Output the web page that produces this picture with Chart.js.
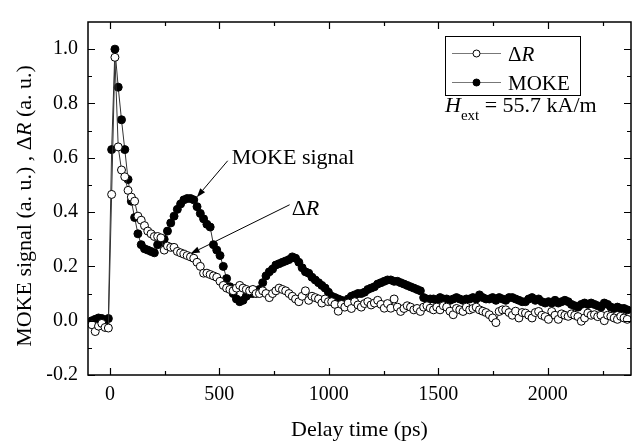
<!DOCTYPE html>
<html>
<head>
<meta charset="utf-8">
<script src="https://cdn.jsdelivr.net/npm/chart.js@4.4.1/dist/chart.umd.min.js"></script>
<style>
  html, body { margin: 0; padding: 0; background: #fff; }
  canvas { display: block; }
</style>
</head>
<body>
<canvas id="chart" width="636" height="445"></canvas>
<script>
// Delay time grid (ps), shared by both series
const delayTimes = [
  -82, -67, -52, -37, -22, -7, 8, 23, 38, 53,
  68, 83, 98, 113, 128, 143, 158, 173, 188, 203,
  218, 233, 248, 263, 278, 293, 308, 323, 338, 353,
  368, 383, 398, 413, 428, 443, 458, 473, 488, 503,
  518, 533, 548, 563, 578, 593, 608, 623, 638, 653,
  668, 683, 698, 713, 728, 743, 758, 773, 788, 803,
  818, 833, 848, 863, 878, 893, 908, 923, 938, 953,
  968, 983, 998, 1013, 1028, 1043, 1058, 1073, 1088, 1103,
  1118, 1133, 1148, 1163, 1178, 1193, 1208, 1223, 1238, 1253,
  1268, 1283, 1298, 1313, 1328, 1343, 1358, 1373, 1388, 1403,
  1418, 1433, 1448, 1463, 1478, 1493, 1508, 1523, 1538, 1553,
  1568, 1583, 1598, 1613, 1628, 1643, 1658, 1673, 1688, 1703,
  1718, 1733, 1748, 1763, 1778, 1793, 1808, 1823, 1838, 1853,
  1868, 1883, 1898, 1913, 1928, 1943, 1958, 1973, 1988, 2003,
  2018, 2033, 2048, 2063, 2078, 2093, 2108, 2123, 2138, 2153,
  2168, 2183, 2198, 2213, 2228, 2243, 2258, 2273, 2288, 2303,
  2318, 2333, 2348, 2363
];

// MOKE signal (filled circles)
const mokeSignal = [
  0.000, 0.005, 0.010, 0.008, -0.012, 0.008, 0.63, 1.00, 0.86, 0.74,
  0.63, 0.52, 0.44, 0.38, 0.32, 0.28, 0.265, 0.26, 0.255, 0.25,
  0.28, 0.29, 0.30, 0.33, 0.36, 0.385, 0.41, 0.43, 0.445, 0.45,
  0.45, 0.445, 0.42, 0.395, 0.375, 0.355, 0.345, 0.28, 0.26, 0.24,
  0.20, 0.155, 0.125, 0.10, 0.08, 0.07, 0.075, 0.09, 0.10, 0.10,
  0.105, 0.115, 0.14, 0.165, 0.18, 0.19, 0.205, 0.21, 0.215, 0.22,
  0.225, 0.235, 0.23, 0.215, 0.195, 0.18, 0.175, 0.16, 0.15, 0.14,
  0.13, 0.12, 0.105, 0.09, 0.085, 0.08, 0.075, 0.065, 0.08, 0.09,
  0.095, 0.10, 0.10, 0.105, 0.115, 0.12, 0.125, 0.135, 0.14, 0.145,
  0.15, 0.15, 0.145, 0.145, 0.14, 0.135, 0.13, 0.125, 0.12, 0.115,
  0.11, 0.085, 0.08, 0.08, 0.08, 0.075, 0.085, 0.08, 0.08, 0.075,
  0.08, 0.085, 0.08, 0.075, 0.08, 0.08, 0.085, 0.08, 0.095, 0.085,
  0.08, 0.08, 0.085, 0.075, 0.085, 0.08, 0.075, 0.085, 0.085, 0.08,
  0.075, 0.07, 0.07, 0.08, 0.085, 0.075, 0.08, 0.07, 0.065, 0.07,
  0.065, 0.075, 0.065, 0.07, 0.075, 0.07, 0.06, 0.055, 0.05, 0.06,
  0.065, 0.06, 0.065, 0.06, 0.055, 0.05, 0.065, 0.06, 0.05, 0.045,
  0.05, 0.045, 0.045, 0.04
];

// Reflectivity change (open circles)
const deltaR = [
  -0.015, -0.04, -0.02, -0.01, -0.025, -0.027, 0.465, 0.97, 0.64, 0.555,
  0.53, 0.48, 0.455, 0.44, 0.385, 0.37, 0.35, 0.33, 0.32, 0.31,
  0.31, 0.305, 0.26, 0.275, 0.27, 0.27, 0.255, 0.25, 0.245, 0.24,
  0.235, 0.23, 0.215, 0.20, 0.175, 0.175, 0.17, 0.165, 0.16, 0.145,
  0.13, 0.12, 0.115, 0.11, 0.12, 0.13, 0.12, 0.115, 0.11, 0.115,
  0.10, 0.10, 0.11, 0.10, 0.085, 0.10, 0.11, 0.12, 0.115, 0.11,
  0.10, 0.09, 0.08, 0.07, 0.09, 0.11, 0.075, 0.09, 0.085, 0.08,
  0.065, 0.08, 0.07, 0.07, 0.06, 0.035, 0.06, 0.05, 0.065, 0.045,
  0.07, 0.058, 0.05, 0.063, 0.07, 0.058, 0.065, 0.075, 0.06, 0.046,
  0.063, 0.046, 0.08, 0.05, 0.034, 0.045, 0.055, 0.05, 0.04, 0.045,
  0.034, 0.05, 0.055, 0.046, 0.04, 0.05, 0.04, 0.055, 0.05, 0.035,
  0.022, 0.045, 0.04, 0.034, 0.05, 0.04, 0.045, 0.05, 0.04, 0.035,
  0.03, 0.022, 0.01, -0.007, 0.034, 0.04, 0.04, 0.03, 0.02, 0.035,
  0.01, 0.03, 0.028, 0.02, 0.01, 0.03, 0.034, 0.02, 0.015, 0.005,
  0.034, 0.02, 0.005, 0.025, 0.02, 0.016, 0.025, 0.02, 0.015, -0.002,
  0.01, 0.028, 0.02, 0.022, 0.015, 0.02, 0.0, 0.02, 0.016, 0.01,
  0.005, 0.016, 0.01, 0.005
];

const xTickValues = [0, 500, 1000, 1500, 2000];
const xMinorTicks = [250, 750, 1250, 1750, 2250];
const yTickValues = [-0.2, 0.0, 0.2, 0.4, 0.6, 0.8, 1.0];
const yMinorTicks = [-0.1, 0.1, 0.3, 0.5, 0.7, 0.9];

// Annotation labels (data coords) and their arrows
const annotationText = [
  [{ t: 'MOKE signal' }],
  [{ t: 'Δ' }, { t: 'R', italic: true }]
];
const annotationAt = [[556, 0.578], [830, 0.39]];
const arrowFrom = [[538, 0.589], [821, 0.427]];
const arrowTo = [[397, 0.455], [369, 0.247]];

const SERIF = "'Liberation Serif', 'Times New Roman', serif";

function fontOf(size, italic) {
    return `${italic ? 'italic ' : ''}${size}px ${SERIF}`;
}

// Draw text made of plain / italic pieces, left aligned at x
function drawRich(ctx, parts, x, y, size) {
    let cx = x;
    parts.forEach(p => {
        ctx.font = fontOf(p.size || size, p.italic);
        ctx.fillText(p.t, cx, y + (p.dy || 0));
        cx += ctx.measureText(p.t).width;
    });
    return cx;
}

function richWidth(ctx, parts, size) {
    let w = 0;
    parts.forEach(p => {
        ctx.font = fontOf(p.size || size, p.italic);
        w += ctx.measureText(p.t).width;
    });
    return w;
}

function drawArrow(ctx, x1, y1, x2, y2) {
    const ang = Math.atan2(y2 - y1, x2 - x1);
    const len = 9, half = 3.2;
    ctx.beginPath();
    ctx.moveTo(x1, y1);
    ctx.lineTo(x2 - len * Math.cos(ang), y2 - len * Math.sin(ang));
    ctx.stroke();
    ctx.beginPath();
    ctx.moveTo(x2, y2);
    ctx.lineTo(x2 - len * Math.cos(ang) + half * Math.sin(ang), y2 - len * Math.sin(ang) - half * Math.cos(ang));
    ctx.lineTo(x2 - len * Math.cos(ang) - half * Math.sin(ang), y2 - len * Math.sin(ang) + half * Math.cos(ang));
    ctx.closePath();
    ctx.fill();
}

const decorPlugin = {
    id: 'decor',
    afterDraw(chart) {
        const { ctx, chartArea: a, scales: { x, y } } = chart;
        ctx.save();
        ctx.strokeStyle = '#000';
        ctx.fillStyle = '#000';

        // frame
        ctx.lineWidth = 1.5;
        ctx.strokeRect(a.left, a.top, a.right - a.left, a.bottom - a.top);

        // inward ticks on all four sides
        ctx.lineWidth = 1.2;
        ctx.beginPath();
        const xt = (v, len) => {
            const px = Math.round(x.getPixelForValue(v)) + 0.5;
            ctx.moveTo(px, a.bottom); ctx.lineTo(px, a.bottom - len);
            ctx.moveTo(px, a.top); ctx.lineTo(px, a.top + len);
        };
        const yt = (v, len) => {
            const py = Math.round(y.getPixelForValue(v)) + 0.5;
            ctx.moveTo(a.left, py); ctx.lineTo(a.left + len, py);
            ctx.moveTo(a.right, py); ctx.lineTo(a.right - len, py);
        };
        xTickValues.forEach(v => xt(v, 7));
        xMinorTicks.forEach(v => xt(v, 4));
        yTickValues.forEach(v => yt(v, 7));
        yMinorTicks.forEach(v => yt(v, 4));
        ctx.stroke();

        // y axis title with italic R
        const yTitle = [
            { t: 'MOKE signal (a. u.) , Δ' },
            { t: 'R', italic: true },
            { t: ' (a. u.)' }
        ];
        ctx.save();
        ctx.translate(31, 206);
        ctx.rotate(-Math.PI / 2);
        ctx.textBaseline = 'alphabetic';
        const tw = richWidth(ctx, yTitle, 22);
        drawRich(ctx, yTitle, -tw / 2, 0, 22);
        ctx.restore();

        // legend box
        const lx = 445, ly = 36, lw = 135, lh = 59;
        ctx.lineWidth = 1;
        ctx.strokeRect(lx + 0.5, ly + 0.5, lw, lh);
        const rows = [
            { yy: 53, ds: chart.data.datasets[0], label: [{ t: 'Δ' }, { t: 'R', italic: true }] },
            { yy: 82, ds: chart.data.datasets[1], label: [{ t: 'MOKE' }] }
        ];
        rows.forEach(r => {
            ctx.strokeStyle = '#777';
            ctx.lineWidth = 1;
            ctx.beginPath();
            ctx.moveTo(452, r.yy + 0.5);
            ctx.lineTo(501, r.yy + 0.5);
            ctx.stroke();
            ctx.beginPath();
            ctx.arc(476.5, r.yy + 0.5, 3.5, 0, Math.PI * 2);
            ctx.fillStyle = r.ds.pointBackgroundColor;
            ctx.fill();
            ctx.strokeStyle = '#000';
            ctx.stroke();
            ctx.fillStyle = '#000';
            ctx.textBaseline = 'alphabetic';
            drawRich(ctx, r.label, 508, r.yy + 7.5, 21);
        });

        // field annotation H_ext = 55.7 kA/m
        drawRich(ctx, [
            { t: 'H', italic: true },
            { t: 'ext', size: 15, dy: 8 },
            { t: ' = 55.7 kA/m' }
        ], 445, 112, 22);

        // annotation labels and arrows
        ctx.lineWidth = 1;
        annotationText.forEach((parts, i) => {
            const tx = x.getPixelForValue(annotationAt[i][0]);
            const ty = y.getPixelForValue(annotationAt[i][1]);
            drawRich(ctx, parts, tx, ty, 22);
            drawArrow(ctx,
                x.getPixelForValue(arrowFrom[i][0]), y.getPixelForValue(arrowFrom[i][1]),
                x.getPixelForValue(arrowTo[i][0]), y.getPixelForValue(arrowTo[i][1]));
        });
        ctx.restore();
    }
};

const ctx = document.getElementById('chart').getContext('2d');
new Chart(ctx, {
    type: 'line',
    data: {
        datasets: [{
            label: 'ΔR',
            data: delayTimes.map((t, i) => ({ x: t, y: deltaR[i] })),
            borderColor: '#333',
            borderWidth: 1,
            pointRadius: 4,
            pointBackgroundColor: '#fff',
            pointBorderColor: '#000',
            pointBorderWidth: 1,
            tension: 0
        }, {
            label: 'MOKE',
            data: delayTimes.map((t, i) => ({ x: t, y: mokeSignal[i] })),
            borderColor: '#333',
            borderWidth: 1,
            pointRadius: 4,
            pointBackgroundColor: '#000',
            pointBorderColor: '#000',
            pointBorderWidth: 1,
            tension: 0
        }]
    },
    options: {
        responsive: false,
        animation: false,
        devicePixelRatio: 1,
        layout: { padding: { top: 5, right: 5, left: 0, bottom: 0 } },
        plugins: {
            legend: { display: false },
            tooltip: { enabled: false }
        },
        scales: {
            x: {
                type: 'linear',
                min: -100,
                max: 2380,
                afterBuildTicks: s => { s.ticks = xTickValues.map(v => ({ value: v })); },
                afterFit: s => { s.height = 70; },
                grid: { display: false, drawTicks: false },
                border: { display: false },
                ticks: {
                    color: '#000',
                    font: { family: SERIF, size: 20 },
                    padding: 8,
                    maxRotation: 0,
                    callback: v => String(v)
                },
                title: {
                    display: true,
                    text: 'Delay time (ps)',
                    color: '#000',
                    font: { family: SERIF, size: 22 },
                    padding: { top: 0, bottom: 2 }
                }
            },
            y: {
                type: 'linear',
                min: -0.2,
                max: 1.1,
                afterBuildTicks: s => { s.ticks = yTickValues.map(v => ({ value: v })); },
                afterFit: s => { s.width = 88; },
                grid: { display: false, drawTicks: false },
                border: { display: false },
                ticks: {
                    color: '#000',
                    font: { family: SERIF, size: 20 },
                    padding: 10,
                    callback: v => v.toFixed(1)
                }
            }
        }
    },
    plugins: [decorPlugin]
});
</script>
</body>
</html>
